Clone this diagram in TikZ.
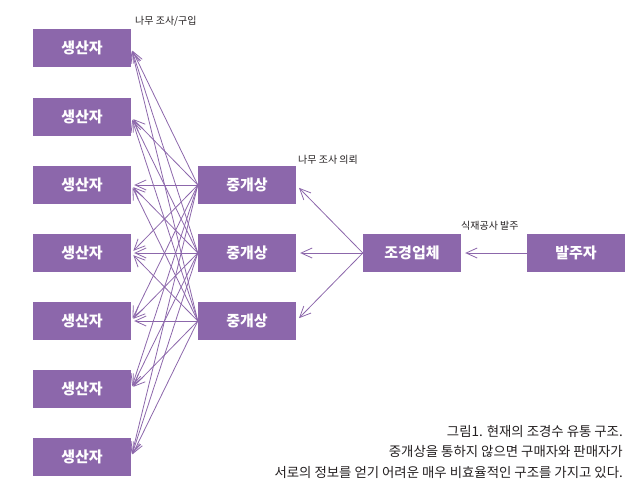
\documentclass[tikz,border=0pt]{standalone}
\usepackage{fontspec}
\setmainfont{Noto Sans CJK KR}
\usetikzlibrary{arrows.meta}
\definecolor{pur}{HTML}{8C67AB}
\definecolor{ink}{HTML}{231F20}
\tikzset{
  box/.style={fill=pur, minimum width=98pt, minimum height=38pt, inner sep=0pt, text=white, font=\fontsize{15}{17}\selectfont\bfseries},
  arr/.style={draw=pur, line width=0.8pt, -{Straight Barb[length=11pt,width=10pt,line width=0.8pt]}},
  lbl/.style={font=\fontsize{10}{12}\selectfont, text=ink, inner sep=0pt, anchor=west},
  captext/.style={font=\fontsize{13.4}{15}\selectfont, text=ink, inner sep=0pt, anchor=east}
}
\begin{document}
\begin{tikzpicture}[x=1pt,y=-1pt]
\useasboundingbox (0,0) rectangle (639,498);
\foreach \i/\y in {1/48,2/117,3/185,4/253,5/321,6/389,7/457}{
  \node[box] (p\i) at (82,\y) {생산자};
}
\node[box] (m1) at (247,185) {중개상};
\node[box] (m2) at (247,253) {중개상};
\node[box] (m3) at (247,321) {중개상};
\node[box] (c) at (412,253) {조경업체};
\node[box] (o) at (576,253) {발주자};
\foreach \m in {1,2,3}{
  \foreach \p in {1,...,7}{
    \draw[arr, shorten >=3pt] (m\m.west) -- (p\p.east);
  }
  \draw[arr, shorten >=4pt] (c.west) -- (m\m.east);
}
\draw[arr, shorten >=4pt] (o.west) -- (c.east);
\node[lbl] (l1) at (135,21) {나무 조사/구입};
\node[lbl] (l2) at (298,160) {나무 조사 의뢰};
\node[lbl] (l3) at (461,226) {식재공사 발주};
\node[captext] (t1) at (623,431) {그림1. 현재의 조경수 유통 구조.};
\node[captext] (t2) at (623,451) {중개상을 통하지 않으면 구매자와 판매자가};
\node[captext] (t3) at (623,472) {서로의 정보를 얻기 어려운 매우 비효율적인 구조를 가지고 있다.};
\end{tikzpicture}
\end{document}
